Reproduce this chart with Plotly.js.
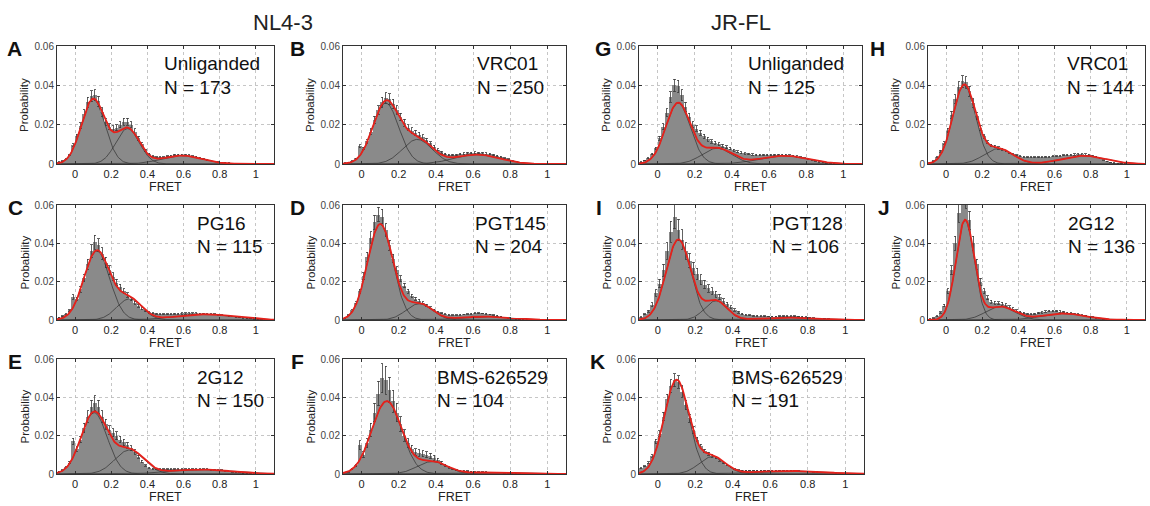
<!DOCTYPE html>
<html>
<head>
<meta charset="utf-8">
<script src="https://cdn.plot.ly/plotly-3.0.1.min.js"></script>
<style>
  html, body { margin: 0; padding: 0; background: #ffffff; }
  #chart { width: 1150px; height: 506px; }
</style>
</head>
<body>
<div id="chart"></div>
<script>
// ---------------- DATA ----------------
const binCenters = [-0.09,-0.07,-0.05,-0.03,-0.01,0.01,0.03,0.05,0.07,0.09,
  0.11,0.13,0.15,0.17,0.19,0.21,0.23,0.25,0.27,0.29,
  0.31,0.33,0.35,0.37,0.39,0.41,0.43,0.45,0.47,0.49,
  0.51,0.53,0.55,0.57,0.59,0.61,0.63,0.65,0.67,0.69,
  0.71,0.73,0.75,0.77,0.79,0.81,0.83,0.85,0.87,0.89,
  0.91,0.93,0.95,0.97,0.99,1.01,1.03,1.05,1.07,1.09];

const xTickVals = [0, 0.2, 0.4, 0.6, 0.8, 1];
const xTickText = ['0', '0.2', '0.4', '0.6', '0.8', '1'];
const yTickVals = [0, 0.02, 0.04, 0.06];
const yTickText = ['0', '0.02', '0.04', '0.06'];

const groupTitles = ['NL4-3', 'JR-FL'];
const panelLetters = ['A','B','G','H','C','D','I','J','E','F','K'];
const panelLigands = ['Unliganded','VRC01','Unliganded','VRC01','PG16','PGT145','PGT128','2G12','2G12','BMS-626529','BMS-626529'];
const panelN = [173, 250, 125, 144, 115, 204, 106, 136, 150, 104, 191];

// Histograms (probability per bin)
const histA = [0.0010,0.0015,0.0025,0.0045,0.0095,0.0140,0.0195,0.0255,0.0315,0.0345,
  0.0350,0.0320,0.0265,0.0215,0.0190,0.0180,0.0185,0.0200,0.0215,0.0215,
  0.0200,0.0165,0.0130,0.0100,0.0070,0.0050,0.0040,0.0035,0.0035,0.0035,
  0.0040,0.0042,0.0045,0.0046,0.0046,0.0045,0.0043,0.0040,0.0036,0.0031,
  0.0026,0.0021,0.0017,0.0013,0.0010,0.0008,0.0006,0.0005,0.0004,0.0003,
  0.0002,0.0002,0.0001,0.0001,0.0001,0.0001,0,0,0,0];
const histB = [0.0005,0.0008,0.0015,0.0028,0.0090,0.0080,0.0115,0.0165,0.0225,0.0275,
  0.0315,0.0335,0.0330,0.0305,0.0275,0.0240,0.0210,0.0185,0.0170,0.0160,
  0.0150,0.0138,0.0122,0.0105,0.0088,0.0072,0.0060,0.0050,0.0045,0.0045,
  0.0047,0.0050,0.0052,0.0055,0.0056,0.0057,0.0056,0.0055,0.0053,0.0050,
  0.0046,0.0042,0.0036,0.0030,0.0024,0.0018,0.0013,0.0009,0.0006,0.0004,
  0.0003,0.0002,0.0001,0.0001,0.0001,0,0,0,0,0];
const histG = [0.0010,0.0018,0.0030,0.0050,0.0080,0.0130,0.0190,0.0260,0.0340,0.0400,
  0.0395,0.0350,0.0290,0.0240,0.0200,0.0180,0.0160,0.0140,0.0125,0.0115,
  0.0108,0.0100,0.0092,0.0085,0.0078,0.0070,0.0063,0.0058,0.0054,0.0050,
  0.0048,0.0046,0.0045,0.0045,0.0046,0.0046,0.0047,0.0047,0.0046,0.0045,
  0.0043,0.0041,0.0038,0.0034,0.0030,0.0025,0.0020,0.0015,0.0011,0.0008,
  0.0005,0.0003,0.0002,0.0001,0.0001,0,0,0,0,0];
const histH = [0.0008,0.0015,0.0035,0.0065,0.0105,0.0170,0.0250,0.0330,0.0390,0.0420,
  0.0415,0.0370,0.0310,0.0245,0.0185,0.0140,0.0110,0.0095,0.0088,0.0082,
  0.0075,0.0066,0.0057,0.0050,0.0044,0.0040,0.0037,0.0035,0.0034,0.0034,
  0.0034,0.0035,0.0036,0.0037,0.0039,0.0040,0.0042,0.0044,0.0046,0.0047,
  0.0048,0.0049,0.0049,0.0048,0.0046,0.0042,0.0036,0.0028,0.0020,0.0013,
  0.0008,0.0005,0.0003,0.0002,0.0001,0,0,0,0,0];
const histC = [0.0012,0.0020,0.0030,0.0050,0.0120,0.0110,0.0160,0.0220,0.0290,0.0360,
  0.0405,0.0390,0.0345,0.0300,0.0260,0.0225,0.0195,0.0170,0.0150,0.0130,
  0.0110,0.0090,0.0072,0.0058,0.0047,0.0040,0.0035,0.0032,0.0030,0.0030,
  0.0030,0.0031,0.0032,0.0033,0.0034,0.0034,0.0034,0.0034,0.0034,0.0033,
  0.0032,0.0031,0.0030,0.0029,0.0027,0.0025,0.0023,0.0020,0.0018,0.0016,
  0.0013,0.0011,0.0009,0.0007,0.0005,0.0004,0.0003,0.0002,0.0001,0.0001];
const histD = [0.0010,0.0025,0.0050,0.0090,0.0150,0.0230,0.0330,0.0430,0.0510,0.0550,
  0.0540,0.0470,0.0390,0.0320,0.0260,0.0215,0.0180,0.0150,0.0125,0.0110,
  0.0100,0.0090,0.0078,0.0065,0.0052,0.0043,0.0036,0.0031,0.0028,0.0026,
  0.0026,0.0027,0.0029,0.0031,0.0033,0.0035,0.0035,0.0034,0.0032,0.0029,
  0.0026,0.0022,0.0018,0.0014,0.0010,0.0007,0.0005,0.0003,0.0002,0.0001,
  0.0001,0.0001,0,0,0,0,0,0,0,0];
const histI = [0.0015,0.0030,0.0045,0.0080,0.0140,0.0190,0.0260,0.0360,0.0460,0.0540,
  0.0470,0.0420,0.0360,0.0310,0.0270,0.0240,0.0210,0.0185,0.0165,0.0150,
  0.0135,0.0120,0.0100,0.0082,0.0066,0.0052,0.0040,0.0032,0.0027,0.0024,
  0.0022,0.0021,0.0020,0.0019,0.0018,0.0018,0.0018,0.0019,0.0020,0.0020,
  0.0020,0.0019,0.0018,0.0017,0.0015,0.0013,0.0011,0.0009,0.0007,0.0006,
  0.0005,0.0004,0.0003,0.0002,0.0001,0.0001,0,0,0,0];
const histJ = [0.0005,0.0010,0.0020,0.0040,0.0075,0.0150,0.0260,0.0400,0.0560,0.0660,
  0.0640,0.0520,0.0400,0.0290,0.0200,0.0150,0.0115,0.0095,0.0090,0.0088,
  0.0085,0.0078,0.0068,0.0058,0.0049,0.0042,0.0036,0.0032,0.0030,0.0032,
  0.0036,0.0040,0.0044,0.0046,0.0047,0.0046,0.0044,0.0041,0.0038,0.0035,
  0.0032,0.0029,0.0026,0.0023,0.0019,0.0015,0.0011,0.0008,0.0005,0.0003,
  0.0002,0.0001,0.0001,0,0,0,0,0,0,0];
const histE = [0.0012,0.0020,0.0035,0.0060,0.0170,0.0130,0.0180,0.0240,0.0300,0.0350,
  0.0370,0.0350,0.0300,0.0260,0.0230,0.0215,0.0200,0.0180,0.0165,0.0150,
  0.0135,0.0115,0.0090,0.0065,0.0045,0.0032,0.0028,0.0026,0.0025,0.0025,
  0.0025,0.0025,0.0026,0.0026,0.0026,0.0026,0.0026,0.0026,0.0026,0.0025,
  0.0025,0.0024,0.0023,0.0022,0.0021,0.0019,0.0017,0.0014,0.0011,0.0009,
  0.0007,0.0005,0.0004,0.0003,0.0002,0.0001,0.0001,0,0,0];
const histF = [0.0008,0.0012,0.0025,0.0045,0.0150,0.0100,0.0160,0.0230,0.0320,0.0420,
  0.0500,0.0490,0.0440,0.0380,0.0320,0.0260,0.0200,0.0160,0.0130,0.0115,
  0.0110,0.0105,0.0100,0.0095,0.0085,0.0072,0.0058,0.0045,0.0035,0.0027,
  0.0022,0.0018,0.0016,0.0014,0.0013,0.0012,0.0011,0.0010,0.0010,0.0009,
  0.0009,0.0008,0.0007,0.0006,0.0005,0.0004,0.0003,0.0003,0.0002,0.0002,
  0.0001,0.0001,0,0,0,0,0,0,0,0];
const histK = [0.0030,0.0040,0.0060,0.0095,0.0170,0.0210,0.0300,0.0390,0.0460,0.0490,
  0.0480,0.0430,0.0360,0.0290,0.0230,0.0180,0.0145,0.0120,0.0105,0.0095,
  0.0085,0.0072,0.0058,0.0045,0.0034,0.0026,0.0021,0.0019,0.0018,0.0018,
  0.0018,0.0018,0.0018,0.0018,0.0018,0.0018,0.0018,0.0018,0.0018,0.0017,
  0.0017,0.0016,0.0015,0.0014,0.0013,0.0012,0.0011,0.0010,0.0009,0.0008,
  0.0007,0.0006,0.0005,0.0004,0.0003,0.0002,0.0001,0.0001,0,0];

// Error-bar size, percent of bin value
const errPct = [8, 8, 8, 7, 9, 7, 12, 9, 10, 15, 7];

// Gaussian fit parameters: [low, intermediate, high] FRET states
const fitMuA = [0.10, 0.29, 0.59],  fitAmpA = [0.033, 0.018, 0.0043],  fitSdA = [0.065, 0.065, 0.11];
const fitMuB = [0.13, 0.30, 0.62],  fitAmpB = [0.031, 0.0125, 0.0048], fitSdB = [0.07, 0.08, 0.12];
const fitMuG = [0.11, 0.32, 0.68],  fitAmpG = [0.031, 0.008, 0.0042],  fitSdG = [0.066, 0.08, 0.13];
const fitMuH = [0.10, 0.29, 0.76],  fitAmpH = [0.040, 0.0078, 0.0042], fitSdH = [0.063, 0.08, 0.12];
const fitMuC = [0.12, 0.30, 0.72],  fitAmpC = [0.036, 0.011, 0.0030],  fitSdC = [0.071, 0.07, 0.16];
const fitMuD = [0.10, 0.31, 0.66],  fitAmpD = [0.050, 0.0085, 0.0018], fitSdD = [0.068, 0.07, 0.13];
const fitMuI = [0.11, 0.31, 0.70],  fitAmpI = [0.042, 0.010, 0.0012],  fitSdI = [0.065, 0.06, 0.15];
const fitMuJ = [0.105, 0.30, 0.65], fitAmpJ = [0.052, 0.0070, 0.0034], fitSdJ = [0.05, 0.08, 0.12];
const fitMuE = [0.105, 0.30, 0.70], fitAmpE = [0.032, 0.0125, 0.0023], fitSdE = [0.072, 0.08, 0.17];
const fitMuF = [0.135, 0.38, 0.70], fitAmpF = [0.038, 0.0065, 0.0008], fitSdF = [0.08, 0.08, 0.15];
const fitMuK = [0.10, 0.29, 0.70],  fitAmpK = [0.049, 0.009, 0.0016],  fitSdK = [0.066, 0.07, 0.18];

// ---------------- LAYOUT GEOMETRY (pixels) ----------------
const W = 1150, H = 506;
const panelData = [
  {hist: histA, mu: fitMuA, amp: fitAmpA, sd: fitSdA},
  {hist: histB, mu: fitMuB, amp: fitAmpB, sd: fitSdB},
  {hist: histG, mu: fitMuG, amp: fitAmpG, sd: fitSdG},
  {hist: histH, mu: fitMuH, amp: fitAmpH, sd: fitSdH},
  {hist: histC, mu: fitMuC, amp: fitAmpC, sd: fitSdC},
  {hist: histD, mu: fitMuD, amp: fitAmpD, sd: fitSdD},
  {hist: histI, mu: fitMuI, amp: fitAmpI, sd: fitSdI},
  {hist: histJ, mu: fitMuJ, amp: fitAmpJ, sd: fitSdJ},
  {hist: histE, mu: fitMuE, amp: fitAmpE, sd: fitSdE},
  {hist: histF, mu: fitMuF, amp: fitAmpF, sd: fitSdF},
  {hist: histK, mu: fitMuK, amp: fitAmpK, sd: fitSdK}
];
// [left, right, top, bottom] of plot frames
const boxes = [
  [57, 274, 46, 164], [343, 566, 46, 164], [639, 862, 46, 164], [928, 1145, 46, 164],
  [57, 274, 205, 320], [343, 566, 205, 320], [639, 864, 205, 320], [928, 1145, 205, 320],
  [57, 274, 359, 474], [343, 566, 359, 474], [639, 864, 359, 474]
];
const letterX = [14, 297, 603, 877, 15, 297, 599, 884, 15, 297, 597];
const labelX  = [162, 475, 746, 1065, 195, 473, 770, 1066, 195, 435, 730];
const groupTitleX = [283, 741];

const px = v => v / W;
const py = v => 1 - v / H;

const traces = [];
const layout = {
  width: W, height: H,
  margin: {l: 0, r: 0, t: 0, b: 0},
  paper_bgcolor: '#ffffff',
  plot_bgcolor: '#ffffff',
  showlegend: false,
  hovermode: false,
  bargap: 0,
  font: {family: 'Liberation Sans, Arial, sans-serif', color: '#222'},
  annotations: []
};

const fitX = [];
for (let x = -0.1; x <= 1.1001; x += 0.004) fitX.push(+x.toFixed(4));

panelData.forEach((p, i) => {
  const k = i + 1;
  const xa = 'x' + (k === 1 ? '' : k), ya = 'y' + (k === 1 ? '' : k);
  const xName = 'xaxis' + (k === 1 ? '' : k), yName = 'yaxis' + (k === 1 ? '' : k);
  const b = boxes[i];

  traces.push({
    type: 'bar', x: binCenters, y: p.hist, xaxis: xa, yaxis: ya,
    marker: {color: '#8a8a8a', line: {width: 0}},
    error_y: {type: 'percent', value: errPct[i], color: '#3c3c3c', thickness: 0.8, width: 1.2}
  });
  const total = fitX.map(() => 0);
  for (let c = 0; c < p.mu.length; c++) {
    const comp = fitX.map(x => p.amp[c] * Math.exp(-Math.pow(x - p.mu[c], 2) / (2 * p.sd[c] * p.sd[c])));
    comp.forEach((v, j) => total[j] += v);
    traces.push({
      type: 'scatter', mode: 'lines', x: fitX, y: comp, xaxis: xa, yaxis: ya,
      line: {color: 'rgba(50,50,50,0.8)', width: 0.9}
    });
  }
  traces.push({
    type: 'scatter', mode: 'lines', x: fitX, y: total, xaxis: xa, yaxis: ya,
    line: {color: '#e5211b', width: 1.8}
  });

  const axCommon = {
    ticks: 'inside', ticklen: 3, tickwidth: 1, tickcolor: '#333',
    showline: true, linecolor: '#333', linewidth: 1, mirror: 'ticks',
    showgrid: true, gridcolor: '#b8b8b8', gridwidth: 0.8, griddash: '3px,3px',
    zeroline: false, fixedrange: true
  };
  layout[xName] = Object.assign({}, axCommon, {
    domain: [px(b[0]), px(b[1])], anchor: ya, range: [-0.1, 1.1],
    tickmode: 'array', tickvals: xTickVals, ticktext: xTickText,
    tickfont: {size: 11, color: '#222'}
  });
  layout[yName] = Object.assign({}, axCommon, {
    domain: [py(b[3]), py(b[2])], anchor: xa, range: [0, 0.06],
    tickmode: 'array', tickvals: yTickVals, ticktext: yTickText,
    tickfont: {size: 10, color: '#444'}
  });

  layout.annotations.push({
    xref: 'paper', yref: 'paper', x: px((b[0] + b[1]) / 2), y: py(b[3] + 23),
    text: 'FRET', showarrow: false, xanchor: 'center', yanchor: 'middle',
    font: {size: 12.5, color: '#222'}
  });
  layout.annotations.push({
    xref: 'paper', yref: 'paper', x: px(b[0] - 33), y: py((b[2] + b[3]) / 2),
    text: 'Probability', textangle: -90, showarrow: false, xanchor: 'center', yanchor: 'middle',
    font: {size: 11.5, color: '#222'}
  });
  layout.annotations.push({
    xref: 'paper', yref: 'paper', x: px(letterX[i]), y: py(b[2] + 2),
    text: '<b>' + panelLetters[i] + '</b>', showarrow: false, xanchor: 'center', yanchor: 'middle',
    font: {size: 21, color: '#111'}
  });
  layout.annotations.push({
    xref: 'paper', yref: 'paper', x: px(labelX[i]), y: py(b[2] + 18),
    text: panelLigands[i], showarrow: false, xanchor: 'left', yanchor: 'middle',
    font: {size: 19, color: '#111'}
  });
  layout.annotations.push({
    xref: 'paper', yref: 'paper', x: px(labelX[i]), y: py(b[2] + 41),
    text: 'N = ' + panelN[i], showarrow: false, xanchor: 'left', yanchor: 'middle',
    font: {size: 19, color: '#111'}
  });
});

groupTitles.forEach((t, g) => {
  layout.annotations.push({
    xref: 'paper', yref: 'paper', x: px(groupTitleX[g]), y: py(23),
    text: t, showarrow: false, xanchor: 'center', yanchor: 'middle',
    font: {size: 22, color: '#222'}
  });
});

Plotly.newPlot('chart', traces, layout, {staticPlot: true, displayModeBar: false});
</script>
</body>
</html>
